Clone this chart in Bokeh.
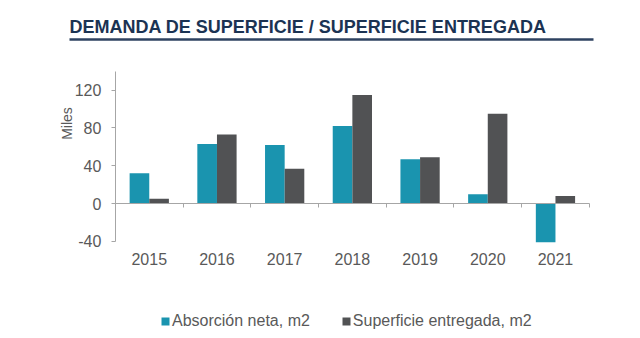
from math import pi
from bokeh.plotting import figure
from bokeh.models import (ColumnDataSource, Range1d, LinearAxis, FixedTicker,
                          Legend, LegendItem, Label, BoxAnnotation)
from bokeh.transform import dodge
from bokeh.embed import file_html
from bokeh.resources import INLINE

# ---- data ----
years = ["2015", "2016", "2017", "2018", "2019", "2020", "2021"]
absorcion = [32, 63, 62, 82, 47, 10, -41]
entregada = [5, 73, 37, 115, 49, 95, 8]
y_ticks = [-40, 0, 40, 80, 120]
title_text = "DEMANDA DE SUPERFICIE / SUPERFICIE ENTREGADA"
y_label = "Miles"
series_labels = ["Absorción neta, m2", "Superficie entregada, m2"]

# ---- style ----
FONT = "Liberation Sans"
GRAY_TEXT = "#595959"
AXIS = "#A6A6A6"
TEAL = "#1A94AF"
DARK = "#515254"
NAVY = "#1B3353"
LINE = "#2E4260"

n = len(years)
pos = list(range(n))
centers = [i + 0.5 for i in pos]
edges = list(range(n + 1))

src = ColumnDataSource(dict(pos=pos, year=years, absorcion=absorcion, entregada=entregada))

# the frame covers x 55..640 px and the full height; the ranges are chosen so
# the category block 0..n sits at 115..589 px and values -40..140 at 241..70 px
p = figure(width=640, height=338, title=None,
           x_range=Range1d(-0.885, n + 0.756), y_range=Range1d(-142.75, 214.9),
           output_backend="svg", toolbar_location=None,
           min_border_left=55, min_border_right=0, min_border_top=0, min_border_bottom=0)
p.outline_line_color = None
p.grid.visible = False
p.background_fill_color = "white"
p.border_fill_color = "white"

r1 = p.vbar(x=dodge("pos", 0.5 - 0.145), top="absorcion", width=0.29,
            source=src, fill_color=TEAL, line_color=None)
r2 = p.vbar(x=dodge("pos", 0.5 + 0.145), top="entregada", width=0.29,
            source=src, fill_color=DARK, line_color=None)

# category labels axis, fixed at the bottom of the value axis
xa = p.xaxis[0]
xa.fixed_location = min(y_ticks)
xa.ticker = FixedTicker(ticks=centers)
xa.major_label_overrides = {c: y for c, y in zip(centers, years)}
xa.axis_line_color = None
xa.major_tick_line_color = None
xa.minor_tick_line_color = None
xa.major_tick_out = 0
xa.major_tick_in = 0
xa.major_label_text_font = FONT
xa.major_label_text_font_size = "16px"
xa.major_label_text_color = GRAY_TEXT
xa.major_label_standoff = 12

# y axis, fixed at the first category boundary
ya = p.yaxis[0]
ya.fixed_location = 0
ya.bounds = (-40, 140)
ya.ticker = FixedTicker(ticks=y_ticks)
ya.major_label_overrides = {t: str(t) for t in y_ticks}
ya.axis_line_color = AXIS
ya.major_tick_line_color = AXIS
ya.major_tick_out = 4
ya.major_tick_in = 0
ya.minor_tick_line_color = None
ya.major_label_standoff = 10
ya.major_label_text_font = FONT
ya.major_label_text_font_size = "16px"
ya.major_label_text_color = GRAY_TEXT

# zero line with category boundary ticks
za = LinearAxis(fixed_location=0, bounds=(0, n), ticker=FixedTicker(ticks=edges),
                major_label_overrides={e: "" for e in edges},
                axis_line_color=AXIS, major_tick_line_color=AXIS,
                major_tick_in=0, major_tick_out=4, minor_tick_line_color=None,
                major_label_standoff=0)
p.add_layout(za, "below")

# title + underline (screen units, relative to frame bottom-left)
p.add_layout(Label(x=14, y=311.3, x_units="screen", y_units="screen", text=title_text,
                   text_font=FONT, text_font_size="18px", text_font_style="bold",
                   text_color=NAVY, text_baseline="alphabetic", text_align="left"))
p.add_layout(BoxAnnotation(left=14, right=538, bottom=297.7, top=300.3,
                           left_units="screen", right_units="screen",
                           bottom_units="screen", top_units="screen",
                           fill_color=LINE, fill_alpha=1, line_color=None))

# y axis label
p.add_layout(Label(x=11, y=215, x_units="screen", y_units="screen", text=y_label,
                   angle=pi / 2, text_font=FONT, text_font_size="14px",
                   text_color=GRAY_TEXT, text_align="center", text_baseline="middle"))

legend = Legend(items=[LegendItem(label=series_labels[0], renderers=[r1]),
                       LegendItem(label=series_labels[1], renderers=[r2])],
                orientation="horizontal", location=(105, 7),
                glyph_width=10, glyph_height=10, label_standoff=2, spacing=31,
                padding=0, margin=0, border_line_color=None, background_fill_alpha=0,
                label_text_font=FONT, label_text_font_size="16px",
                label_text_color=GRAY_TEXT, label_height=20)
p.add_layout(legend, "center")

open("out.html", "w").write(file_html(p, INLINE))
